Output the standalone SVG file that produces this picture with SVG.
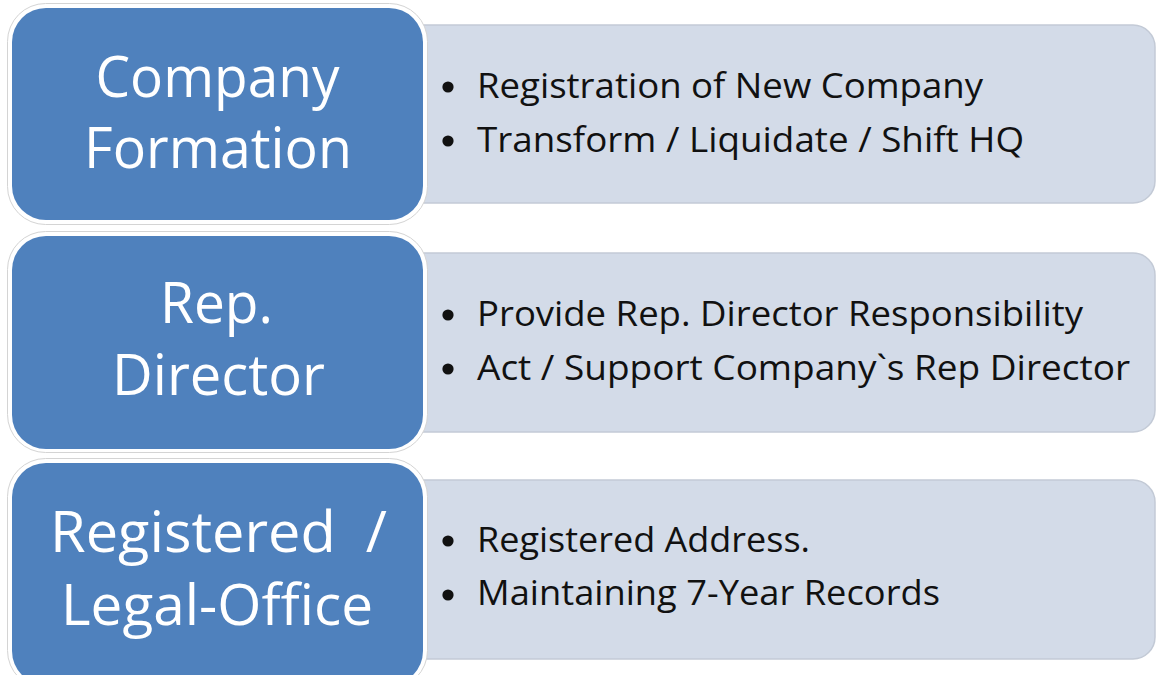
<svg xmlns="http://www.w3.org/2000/svg" width="1157" height="675" viewBox="0 0 1157 675">
<style>
.halo{fill:#ffffff;stroke:#d4d4d4;stroke-width:1}
.blue{fill:#4f81bd}
.panel{fill:#d3dbe8;stroke:#c3cad6;stroke-width:1.5}
.title{font-family:"Open Sans","Liberation Sans",sans-serif;font-size:57px;fill:#ffffff;text-anchor:middle}
.item{font-family:"Open Sans","Liberation Sans",sans-serif;font-size:35px;fill:#111111}
.dot{fill:#111111}
</style>
<rect width="1157" height="675" fill="#ffffff"/>
<g id="node-company-formation">
  <rect class="panel" x="380" y="25" width="775" height="178" rx="22"/>
  <rect class="halo" x="7.5" y="3.5" width="420" height="221" rx="38"/>
  <rect class="blue" x="12" y="8" width="411" height="212" rx="34"/>
  <text class="title" x="217.5" y="97" textLength="244" lengthAdjust="spacingAndGlyphs">Company</text>
  <text class="title" x="218" y="168" textLength="268" lengthAdjust="spacingAndGlyphs">Formation</text>
  <circle class="dot" cx="448" cy="87" r="5.6"/>
  <text class="item" x="477" y="98" textLength="506" lengthAdjust="spacingAndGlyphs">Registration of New Company</text>
  <circle class="dot" cx="448" cy="141" r="5.6"/>
  <text class="item" x="477" y="152" textLength="547" lengthAdjust="spacingAndGlyphs">Transform / Liquidate / Shift HQ</text>
</g>
<g id="node-rep-director">
  <rect class="panel" x="380" y="253" width="775" height="179" rx="22"/>
  <rect class="halo" x="7.5" y="231.5" width="420" height="221" rx="38"/>
  <rect class="blue" x="12" y="236" width="411" height="213" rx="34"/>
  <text class="title" x="216.5" y="323" textLength="113" lengthAdjust="spacingAndGlyphs">Rep.</text>
  <text class="title" x="218.5" y="395" textLength="213" lengthAdjust="spacingAndGlyphs">Director</text>
  <circle class="dot" cx="448" cy="315" r="5.6"/>
  <text class="item" x="477" y="326" textLength="606" lengthAdjust="spacingAndGlyphs">Provide Rep. Director Responsibility</text>
  <circle class="dot" cx="448" cy="369" r="5.6"/>
  <text class="item" x="477" y="380" textLength="653" lengthAdjust="spacingAndGlyphs">Act / Support Company`s Rep Director</text>
</g>
<g id="node-registered-office">
  <rect class="panel" x="380" y="480" width="775" height="179" rx="22"/>
  <rect class="halo" x="7.5" y="458.5" width="420" height="230" rx="38"/>
  <rect class="blue" x="12" y="463" width="411" height="222" rx="34"/>
  <text class="title" x="218.5" y="552" textLength="337" lengthAdjust="spacingAndGlyphs" xml:space="preserve">Registered  /</text>
  <text class="title" x="217" y="625" textLength="312" lengthAdjust="spacingAndGlyphs">Legal-Office</text>
  <circle class="dot" cx="448" cy="541" r="5.6"/>
  <text class="item" x="477" y="552" textLength="333" lengthAdjust="spacingAndGlyphs">Registered Address.</text>
  <circle class="dot" cx="448" cy="595" r="5.6"/>
  <text class="item" x="477" y="605" textLength="463" lengthAdjust="spacingAndGlyphs">Maintaining 7-Year Records</text>
</g>
<g id="connectors"></g>
</svg>
